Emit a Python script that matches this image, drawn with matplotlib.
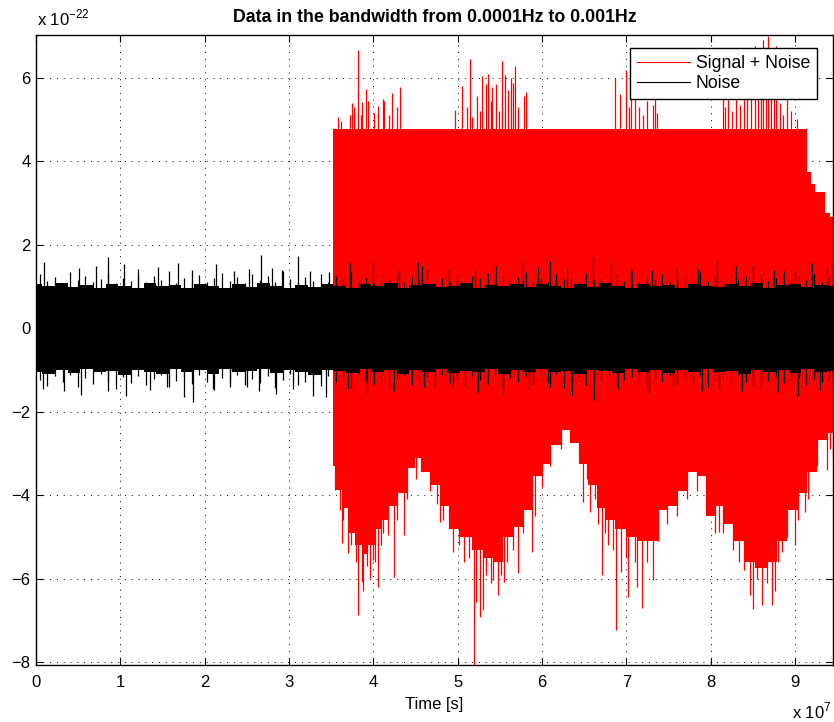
import numpy as np
import matplotlib
matplotlib.use("Agg")
import matplotlib.pyplot as plt
from matplotlib.lines import Line2D

plt.rcParams['font.family'] = ['Liberation Sans', 'DejaVu Sans']

# ---- data (x in units of 1e7 s, y in units of 1e-22) ----
title = "Data in the bandwidth from 0.0001Hz to 0.001Hz"
xlabel = "Time [s]"
x_ticks = [0, 1, 2, 3, 4, 5, 6, 7, 8, 9]
y_ticks = [-8, -6, -4, -2, 0, 2, 4, 6]
x_max = 9.45

# Signal + Noise: lower envelope of the dense band
sig_x = [3.525, 3.58, 3.67, 3.75, 3.82, 3.90, 3.98, 4.06, 4.14, 4.22, 4.34, 4.46,
         4.53, 4.61, 4.73, 4.85, 4.97, 5.09, 5.24, 5.36, 5.48, 5.60, 5.72, 5.84,
         5.95, 6.04, 6.16, 6.28, 6.39, 6.48, 6.60, 6.71, 6.79, 6.95, 7.07, 7.19,
         7.31, 7.43, 7.55, 7.66, 7.78, 7.90, 8.00, 8.09, 8.21, 8.33, 8.45, 8.61,
         8.73, 8.85, 8.97, 9.09, 9.20, 9.32, 9.45]
sig_lo = [-3.30, -3.87, -4.30, -4.90, -5.20, -5.40, -5.20, -4.80, -4.60, -4.25, -3.95, -3.35,
          -3.10, -3.45, -3.75, -4.25, -4.80, -5.00, -5.30, -5.50, -5.60, -5.00, -4.75, -4.35,
          -3.55, -3.25, -2.80, -2.43, -2.75, -3.25, -3.75, -4.30, -4.60, -4.80, -5.00, -5.10,
          -5.10, -4.35, -4.25, -3.90, -3.45, -3.55, -4.50, -4.25, -4.70, -5.10, -5.60, -5.75,
          -5.60, -5.10, -4.35, -3.95, -3.45, -2.67, -2.50]
# Signal + Noise: clipped upper level (steps down at the end)
top_x = [3.525, 9.14, 9.19, 9.24, 9.35, 9.41, 9.45]
top_y = [4.77, 3.75, 3.46, 3.26, 2.75, 2.66, 2.66]
# Signal + Noise: spikes above the clipped level
sig_up_x = [3.58, 3.62, 3.72, 3.75, 3.77, 3.82, 3.85, 3.87, 3.91, 3.94, 4.01, 4.06,
            4.12, 4.13, 4.18, 4.22, 4.28, 4.32,
            4.97, 5.05, 5.11, 5.14, 5.17, 5.23, 5.27, 5.29, 5.33, 5.36, 5.39, 5.41,
            5.46, 5.49, 5.52, 5.56, 5.60, 5.63, 5.66, 5.68, 5.71, 5.79, 5.81,
            6.87, 6.93, 6.99, 7.03, 7.06, 7.10, 7.15, 7.20, 7.25, 7.32, 7.34, 7.36,
            8.15, 8.17, 8.20, 8.25, 8.30, 8.35, 8.40, 8.43, 8.48, 8.53, 8.56, 8.60,
            8.62, 8.65, 8.68, 8.71, 8.75, 8.78, 8.82, 8.86, 8.90, 8.95, 9.02]
sig_up_y = [5.06, 4.95, 5.10, 5.40, 5.30, 6.65, 5.10, 5.42, 5.73, 5.43, 5.16, 5.32,
            5.48, 5.43, 5.10, 5.63, 5.30, 5.78,
            5.23, 5.80, 5.30, 6.45, 5.05, 5.56, 5.20, 6.04, 5.85, 6.09, 5.43, 5.77,
            5.85, 5.20, 6.40, 6.07, 5.70, 6.00, 5.87, 6.27, 5.30, 5.56, 5.66,
            6.00, 5.60, 6.19, 5.30, 5.60, 5.55, 5.30, 5.10, 5.45, 5.35, 5.50, 5.15,
            5.60, 5.30, 5.90, 5.20, 5.70, 5.35, 5.80, 5.50, 6.10, 6.76, 6.70, 6.20,
            6.90, 6.30, 7.00, 6.55, 6.40, 6.76, 5.40, 5.10, 5.50, 5.20, 5.00]
# Signal + Noise: spikes below the dense band
sig_dn_x = [3.55, 3.61, 3.63, 3.70, 3.82, 3.87, 3.88, 3.96, 4.02, 4.06, 4.12, 4.24,
            4.36, 4.79, 4.95, 5.07, 5.19, 5.22, 5.27, 5.30, 5.42, 5.48, 5.55, 5.72,
            5.88, 6.49, 6.57, 6.66, 6.71, 6.78, 6.88, 6.94, 7.02, 7.13, 7.19, 7.32,
            8.10, 8.34, 8.47, 8.50, 8.61, 8.73, 8.76, 8.85, 9.00, 9.12, 9.38, 9.45,
            3.64, 3.73, 3.79, 3.93, 4.00, 4.09, 4.17, 4.28, 4.40, 4.50, 4.57, 4.67,
            4.76, 4.82, 4.90, 5.01, 5.13, 5.33, 5.39, 5.51, 5.58, 5.65, 5.78, 5.92,
            6.00, 6.10, 6.22, 6.33, 6.44, 6.53, 6.63, 6.75, 6.84, 7.00, 7.10, 7.24,
            7.37, 7.48, 7.60, 7.72, 7.84, 7.95, 8.05, 8.15, 8.27, 8.40, 8.55, 8.67,
            8.80, 8.91, 9.04, 9.15, 9.26, 9.41]
sig_dn_y = [-3.87, -4.35, -5.14, -5.38, -6.86, -6.07, -6.30, -5.98, -5.60, -6.20, -4.90, -5.95,
            -4.95, -4.63, -5.35, -5.60, -8.06, -6.55, -6.91, -6.75, -6.02, -6.40, -6.07, -5.86,
            -5.35, -4.16, -4.40, -4.70, -5.90, -5.18, -7.23, -5.85, -6.43, -6.20, -6.70, -6.02,
            -4.87, -5.60, -6.38, -6.73, -6.62, -6.62, -6.30, -5.35, -5.20, -4.40, -3.40, -3.10,
            -4.60, -5.20, -5.60, -5.70, -5.55, -5.20, -4.95, -4.60, -4.10, -3.60, -3.40, -3.90,
            -4.20, -4.60, -4.80, -5.20, -5.50, -5.90, -6.10, -5.90, -5.60, -5.30, -4.90, -4.50,
            -3.80, -3.30, -2.90, -2.70, -3.20, -3.60, -4.10, -4.90, -5.30, -5.50, -5.60, -5.60,
            -5.10, -4.70, -4.50, -4.10, -3.90, -4.40, -4.90, -4.90, -5.30, -5.80, -6.00, -6.10,
            -5.60, -5.00, -4.60, -4.10, -3.30, -2.90]

# Noise: dense band edges (64 samples over 0 .. 9.45)
noise_hi = [1.05, 1.00, 1.08, 0.98, 1.04, 0.97, 1.06, 1.01, 0.96, 1.07, 1.00, 1.03,
            0.97, 1.06, 1.02, 0.96, 1.05, 0.99, 1.08, 1.01, 0.97, 1.04, 0.98, 1.06,
            1.02, 0.96, 1.05, 1.00, 1.07, 0.97, 1.03, 1.06, 0.98, 1.02, 1.07, 0.96,
            1.04, 1.00, 1.06, 0.98, 1.05, 1.01, 0.96, 1.05, 0.99, 1.08, 1.02, 0.97,
            1.06, 1.00, 1.04, 0.97, 1.06, 1.02, 0.98, 1.05, 1.00, 1.07, 0.97, 1.03,
            1.06, 0.99, 1.04, 1.01]
noise_lo = [-1.04, -1.10, -0.99, -1.07, -0.98, -1.06, -1.02, -1.11, -0.99, -1.04, -1.09, -0.97,
            -1.05, -1.01, -1.10, -0.98, -1.06, -1.03, -0.97, -1.08, -1.00, -1.04, -1.11, -0.99,
            -1.03, -1.07, -0.98, -1.06, -1.01, -1.09, -1.00, -1.04, -0.97, -1.08, -1.02, -1.05,
            -0.98, -1.10, -1.01, -1.04, -0.97, -1.06, -1.03, -1.10, -0.99, -1.03, -1.07, -0.98,
            -1.05, -1.01, -1.08, -1.00, -1.04, -0.97, -1.06, -1.03, -1.09, -0.99, -1.04, -1.01,
            -1.07, -0.98, -1.05, -1.02]
# Noise: fringe of short spikes along the band edges (105 evenly spaced samples)
noise_fringe_hi = [1.30, 1.12, 1.22, 1.08, 1.35, 1.15, 1.25, 1.10, 1.18, 1.32,
                   1.09, 1.20, 1.14, 1.28, 1.11, 1.24, 1.16, 1.38, 1.07, 1.21,
                   1.13, 1.27, 1.10, 1.19, 1.33, 1.12, 1.23, 1.08, 1.30, 1.15,
                   1.26, 1.11, 1.36, 1.17, 1.09, 1.22, 1.14, 1.29, 1.10, 1.25,
                   1.18, 1.34, 1.12, 1.20, 1.08, 1.27, 1.15, 1.31, 1.11, 1.23,
                   1.16, 1.37, 1.09, 1.21, 1.13, 1.28, 1.10, 1.24, 1.19, 1.32,
                   1.12, 1.26, 1.08, 1.22, 1.35, 1.14, 1.20, 1.11, 1.29, 1.17,
                   1.25, 1.10, 1.33, 1.15, 1.21, 1.09, 1.27, 1.13, 1.38, 1.12,
                   1.23, 1.16, 1.30, 1.10, 1.19, 1.26, 1.08, 1.34, 1.14, 1.22,
                   1.11, 1.28, 1.17, 1.24, 1.09, 1.31, 1.13, 1.20, 1.36, 1.12,
                   1.25, 1.15, 1.29, 1.10, 1.22]
noise_fringe_lo = [-1.25, -1.38, -1.15, -1.30, -1.12, -1.42, -1.20, -1.33, -1.10, -1.27,
                   -1.45, -1.18, -1.31, -1.14, -1.36, -1.22, -1.11, -1.40, -1.26, -1.16,
                   -1.34, -1.13, -1.29, -1.47, -1.19, -1.24, -1.12, -1.37, -1.21, -1.32,
                   -1.15, -1.43, -1.23, -1.10, -1.35, -1.28, -1.17, -1.39, -1.14, -1.30,
                   -1.20, -1.44, -1.12, -1.26, -1.33, -1.16, -1.41, -1.22, -1.11, -1.36,
                   -1.27, -1.18, -1.46, -1.13, -1.31, -1.21, -1.38, -1.15, -1.25, -1.34,
                   -1.12, -1.40, -1.19, -1.29, -1.14, -1.37, -1.23, -1.32, -1.10, -1.43,
                   -1.26, -1.17, -1.35, -1.21, -1.30, -1.13, -1.39, -1.24, -1.16, -1.33,
                   -1.45, -1.19, -1.28, -1.12, -1.36, -1.22, -1.31, -1.15, -1.41, -1.25,
                   -1.18, -1.34, -1.11, -1.29, -1.38, -1.20, -1.27, -1.14, -1.32, -1.23,
                   -1.16, -1.37, -1.21, -1.30, -1.26]
# Noise: larger isolated spikes
noise_up_x = [0.09, 0.51, 0.71, 0.85, 1.04, 1.21, 1.45, 1.68, 1.85, 2.13, 2.35, 2.52,
              2.67, 2.80, 2.92, 3.11, 3.25, 3.48, 3.72, 4.00, 4.30, 4.53, 4.58, 4.90,
              5.20, 5.45, 5.77, 5.95, 6.09, 6.30, 6.60, 6.82, 7.05, 7.30, 7.60, 7.85,
              8.07, 8.30, 8.50, 8.75, 9.00, 9.20, 9.38]
noise_up_y = [1.59, 1.43, 1.48, 1.71, 1.53, 1.42, 1.46, 1.55, 1.40, 1.53, 1.38, 1.42,
              1.76, 1.45, 1.40, 1.72, 1.38, 1.35, 1.56, 1.64, 1.45, 1.59, 1.48, 1.42,
              1.40, 1.50, 1.60, 1.45, 1.60, 1.42, 1.73, 1.65, 1.45, 1.40, 1.48, 1.42,
              1.62, 1.50, 1.52, 1.40, 1.45, 1.55, 1.48]
noise_dn_x = [0.08, 0.33, 0.53, 0.85, 1.07, 1.35, 1.55, 1.76, 1.86, 2.10, 2.30, 2.50,
              2.65, 2.85, 3.05, 3.28, 3.44, 3.70, 3.92, 4.25, 4.60, 4.95, 5.24, 5.54,
              5.85, 6.10, 6.36, 6.62, 6.90, 7.27, 7.55, 7.90, 8.10, 8.37, 8.60, 8.80,
              9.04, 9.30]
noise_dn_y = [-1.45, -1.50, -1.60, -1.50, -1.62, -1.47, -1.40, -1.65, -1.76, -1.45, -1.42, -1.40,
              -1.50, -1.58, -1.45, -1.62, -1.65, -1.45, -1.60, -1.50, -1.42, -1.45, -1.53, -1.60,
              -1.45, -1.40, -1.60, -1.71, -1.45, -1.58, -1.42, -1.50, -1.45, -1.50, -1.42, -1.52,
              -1.62, -1.48]

RED = '#ff0000'
BLACK = '#000000'

fig = plt.figure(figsize=(8.34, 7.22), dpi=100)
ax = fig.add_axes([36 / 834, 1 - 665 / 722, 797 / 834, 630 / 722])

# ---- Signal + Noise (red) ----
ax.fill_between(sig_x, sig_lo, 0, step='mid', color=RED, lw=0, zorder=2)
ax.fill_between(top_x, 0, top_y, step='post', color=RED, lw=0, zorder=2)
ax.vlines(sig_up_x, 4.5, sig_up_y, color=RED, lw=0.9, zorder=2)
ax.vlines(sig_dn_x, sig_dn_y, -2.0, color=RED, lw=0.9, zorder=2)

# ---- Noise (black) ----
noise_x = np.linspace(0, x_max, len(noise_hi))
ax.fill_between(noise_x, noise_lo, noise_hi, step='mid', color=BLACK, lw=0, zorder=3)
fringe_x = np.linspace(0.045, x_max - 0.045, len(noise_fringe_hi))
ax.vlines(fringe_x, 0, noise_fringe_hi, color=BLACK, lw=0.9, zorder=3)
ax.vlines(fringe_x, noise_fringe_lo, 0, color=BLACK, lw=0.9, zorder=3)
ax.vlines(noise_up_x, 0, noise_up_y, color=BLACK, lw=0.9, zorder=3)
ax.vlines(noise_dn_x, noise_dn_y, 0, color=BLACK, lw=0.9, zorder=3)

ax.set_xlim(0, x_max)
ax.set_ylim(-8.065, 7.02)
ax.set_xticks(x_ticks)
ax.set_yticks(y_ticks)
ax.set_xticklabels([str(t) for t in x_ticks])
ax.set_yticklabels([('\u2212' + str(-t)) if t < 0 else str(t) for t in y_ticks])
ax.tick_params(direction='in', length=5, width=0.8, top=True, right=True,
               labelsize=12)
ax.tick_params(axis='x', pad=7)
ax.tick_params(axis='y', pad=4)
for s in ax.spines.values():
    s.set_linewidth(1.0)
ax.set_axisbelow(True)
ax.grid(True, color='black', linestyle=(0, (1, 6)), linewidth=0.7)

ax.set_title(title, fontsize=12.8, fontweight='bold', pad=9)
ax.set_xlabel(xlabel, fontsize=12, labelpad=5)

fig.text(37 / 834, 1 - 18 / 722, r'x 10$^{\mathregular{-22}}$', fontsize=12,
         ha='left', va='center')
fig.text(792 / 834, 1 - 711 / 722, r'x 10$^{\mathregular{7}}$', fontsize=12,
         ha='left', va='center')

handles = [Line2D([], [], color=RED, lw=0.8), Line2D([], [], color=BLACK, lw=0.8)]
leg = ax.legend(handles, ['Signal + Noise', 'Noise'], loc='upper right',
                bbox_to_anchor=(0.98, 0.979), borderaxespad=0, fontsize=12.7,
                fancybox=False, framealpha=1, edgecolor='black',
                handlelength=3.0, handletextpad=0.35, borderpad=0.4,
                labelspacing=0.15)
leg.get_frame().set_linewidth(1.0)
leg.set_zorder(10)

fig.savefig('out.png', dpi=100)
